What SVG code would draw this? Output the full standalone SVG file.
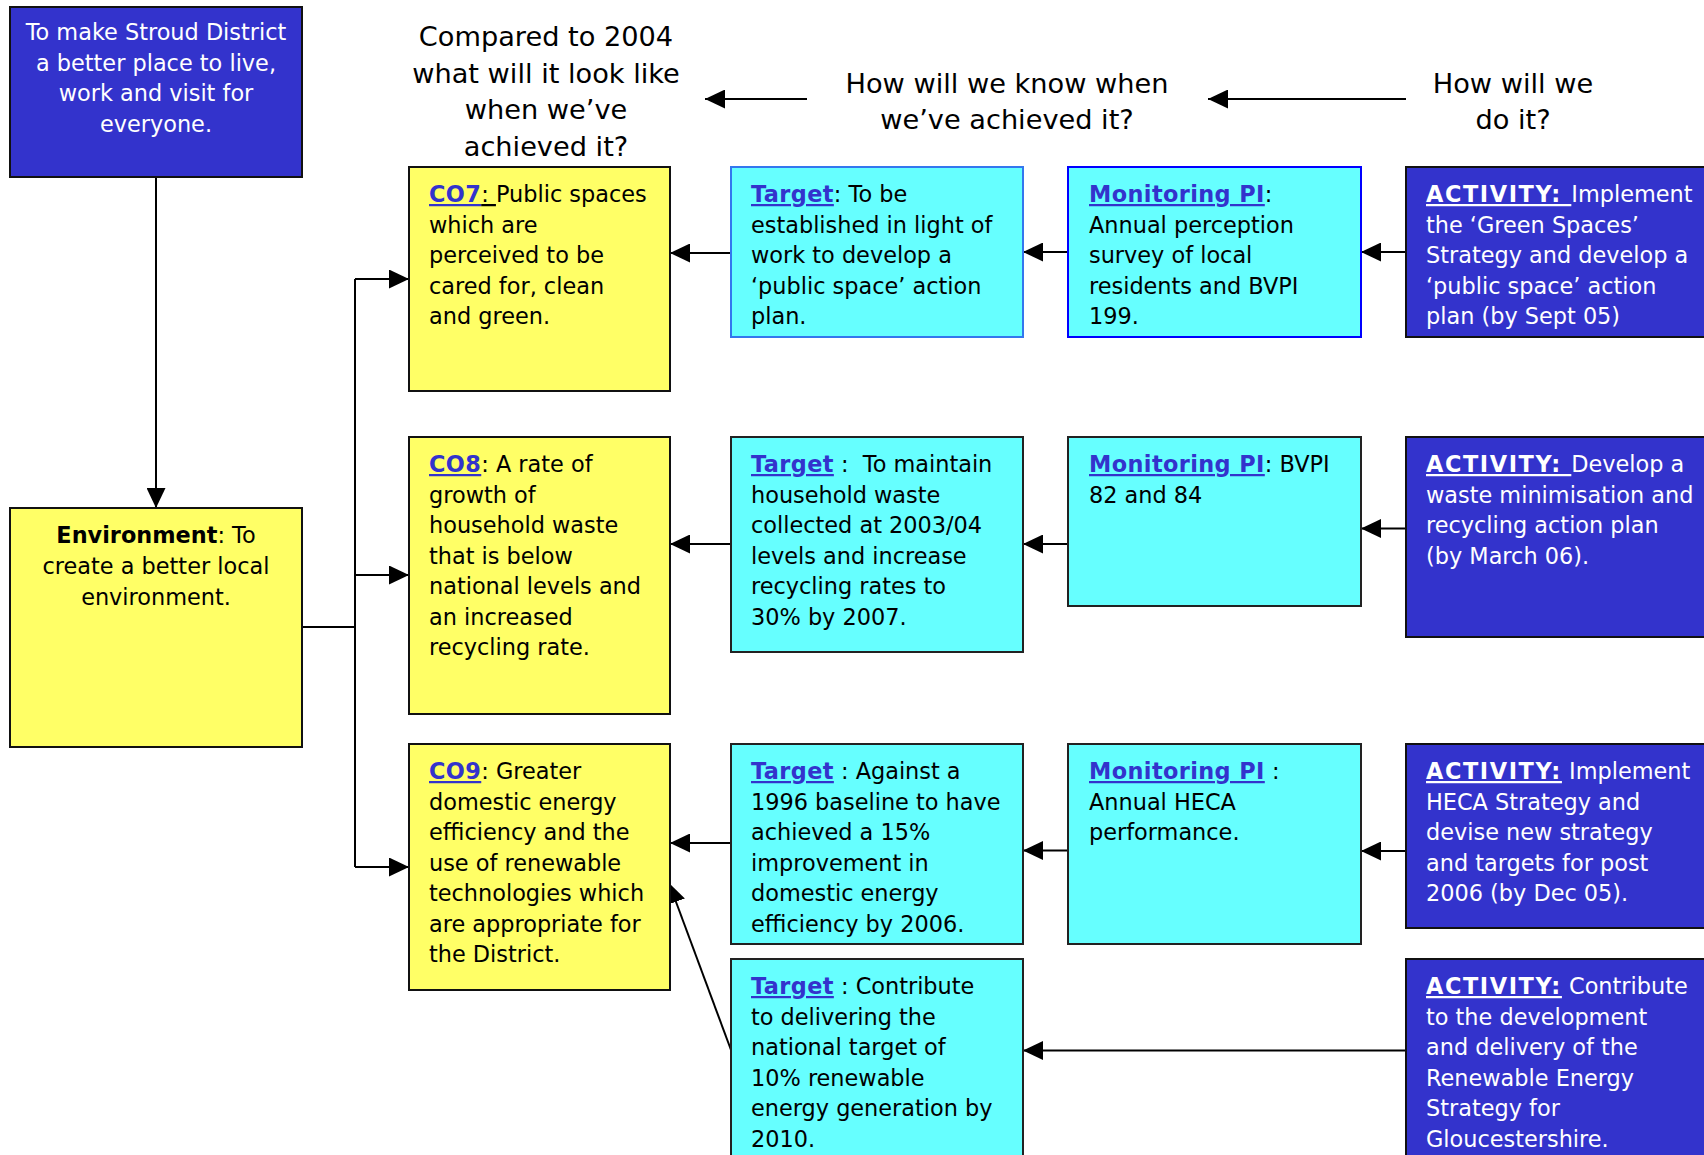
<svg xmlns="http://www.w3.org/2000/svg" width="1704" height="1155" viewBox="0 0 1704 1155">
<style>
text{font-family:"DejaVu Sans",Verdana,sans-serif;font-size:22.4px;fill:#000}
.w{fill:#fff}
.c{text-anchor:middle}
.hd{font-size:27.2px;text-anchor:middle}
.lk{font-weight:bold;fill:#3333cc;text-decoration:underline;letter-spacing:0.4px}
.ul{text-decoration:underline}
.act{font-weight:bold;fill:#fff;text-decoration:underline;letter-spacing:1.6px}
.y{fill:#ffff66;stroke:#111;stroke-width:2}
.cy{fill:#66ffff;stroke:#222;stroke-width:2}
.bl{fill:#3333cc;stroke:#111;stroke-width:2}
.cn line,.cn path{stroke:#000;stroke-width:2;fill:none;marker-end:url(#ah)}
.cn .nm{marker-end:none}
</style>
<defs>
<marker id="ah" markerUnits="userSpaceOnUse" markerWidth="20" markerHeight="19" refX="20" refY="9.5" orient="auto" viewBox="0 0 20 19">
<path d="M0,0 L20,9.5 L0,19 z" fill="#000"/>
</marker>
</defs>
<rect width="1704" height="1155" fill="#fff"/>

<g id="headers">
<text class="hd" x="546" y="46">Compared to 2004</text>
<text class="hd" x="546" y="83">what will it look like</text>
<text class="hd" x="546" y="119">when we’ve</text>
<text class="hd" x="546" y="156">achieved it?</text>
<text class="hd" x="1007" y="93">How will we know when</text>
<text class="hd" x="1007" y="129">we’ve achieved it?</text>
<text class="hd" x="1513" y="93">How will we</text>
<text class="hd" x="1513" y="129">do it?</text>
</g>

<g class="cn" id="connectors">
<line x1="807" y1="99" x2="705" y2="99"/>
<line x1="1406" y1="99" x2="1208" y2="99"/>
<line x1="156" y1="177" x2="156" y2="508"/>
<path class="nm" d="M302,627 H355"/>
<path class="nm" d="M355,279 V867"/>
<line x1="355" y1="279" x2="409" y2="279"/>
<line x1="355" y1="575" x2="409" y2="575"/>
<line x1="355" y1="867" x2="409" y2="867"/>
<line x1="731" y1="253" x2="670" y2="253"/>
<line x1="1068" y1="252" x2="1023" y2="252"/>
<line x1="1406" y1="252" x2="1361" y2="252"/>
<line x1="731" y1="544" x2="670" y2="544"/>
<line x1="1068" y1="544" x2="1023" y2="544"/>
<line x1="1406" y1="528.5" x2="1361" y2="528.5"/>
<line x1="731" y1="843" x2="670" y2="843"/>
<line x1="1068" y1="850.5" x2="1023" y2="850.5"/>
<line x1="1406" y1="851" x2="1361" y2="851"/>
<line x1="1406" y1="1050.5" x2="1023" y2="1050.5"/>
<line x1="731" y1="1050" x2="669" y2="883"/>
</g>

<g id="vision">
<rect class="bl" x="10" y="7" width="292" height="170"/>
<text class="w c" x="156" y="40">To make Stroud District<tspan x="156" dy="30.7">a better place to live,</tspan><tspan x="156" dy="30.7">work and visit for</tspan><tspan x="156" dy="30.7">everyone.</tspan></text>
</g>

<g id="environment">
<rect class="y" x="10" y="508" width="292" height="239"/>
<text class="c" x="156" y="543"><tspan font-weight="bold">Environment</tspan>: To<tspan x="156" dy="31">create a better local</tspan><tspan x="156" dy="31">environment.</tspan></text>
</g>

<g id="co7">
<rect class="y" x="409" y="167" width="261" height="224"/>
<text x="429" y="202"><tspan class="lk">CO7</tspan><tspan class="ul">: </tspan>Public spaces<tspan x="429" dy="30.5">which are</tspan><tspan x="429" dy="30.5">perceived to be</tspan><tspan x="429" dy="30.5">cared for, clean</tspan><tspan x="429" dy="30.5">and green.</tspan></text>
</g>

<g id="co8">
<rect class="y" x="409" y="437" width="261" height="277"/>
<text x="429" y="472"><tspan class="lk">CO8</tspan>: A rate of<tspan x="429" dy="30.5">growth of</tspan><tspan x="429" dy="30.5">household waste</tspan><tspan x="429" dy="30.5">that is below</tspan><tspan x="429" dy="30.5">national levels and</tspan><tspan x="429" dy="30.5">an increased</tspan><tspan x="429" dy="30.5">recycling rate.</tspan></text>
</g>

<g id="co9">
<rect class="y" x="409" y="744" width="261" height="246"/>
<text x="429" y="779"><tspan class="lk">CO9</tspan>: Greater<tspan x="429" dy="30.5">domestic energy</tspan><tspan x="429" dy="30.5">efficiency and the</tspan><tspan x="429" dy="30.5">use of renewable</tspan><tspan x="429" dy="30.5">technologies which</tspan><tspan x="429" dy="30.5">are appropriate for</tspan><tspan x="429" dy="30.5">the District.</tspan></text>
</g>

<g id="target1">
<rect class="cy" x="731" y="167" width="292" height="170" style="stroke:#3377ee"/>
<text x="751" y="202"><tspan class="lk">Target</tspan>: To be<tspan x="751" dy="30.5">established in light of</tspan><tspan x="751" dy="30.5">work to develop a</tspan><tspan x="751" dy="30.5">‘public space’ action</tspan><tspan x="751" dy="30.5">plan.</tspan></text>
</g>

<g id="target2">
<rect class="cy" x="731" y="437" width="292" height="215"/>
<text x="751" y="472"><tspan class="lk">Target</tspan> :&#160; To maintain<tspan x="751" dy="30.5">household waste</tspan><tspan x="751" dy="30.5">collected at 2003/04</tspan><tspan x="751" dy="30.5">levels and increase</tspan><tspan x="751" dy="30.5">recycling rates to</tspan><tspan x="751" dy="30.5">30% by 2007.</tspan></text>
</g>

<g id="target3">
<rect class="cy" x="731" y="744" width="292" height="200"/>
<text x="751" y="779"><tspan class="lk">Target</tspan> : Against a<tspan x="751" dy="30.5">1996 baseline to have</tspan><tspan x="751" dy="30.5">achieved a 15%</tspan><tspan x="751" dy="30.5">improvement in</tspan><tspan x="751" dy="30.5">domestic energy</tspan><tspan x="751" dy="30.5">efficiency by 2006.</tspan></text>
</g>

<g id="target4">
<rect class="cy" x="731" y="959" width="292" height="215"/>
<text x="751" y="994"><tspan class="lk">Target</tspan> : Contribute<tspan x="751" dy="30.5">to delivering the</tspan><tspan x="751" dy="30.5">national target of</tspan><tspan x="751" dy="30.5">10% renewable</tspan><tspan x="751" dy="30.5">energy generation by</tspan><tspan x="751" dy="30.5">2010.</tspan></text>
</g>

<g id="monitoring1">
<rect class="cy" x="1068" y="167" width="293" height="170" style="stroke:#0000ff"/>
<text x="1089" y="202"><tspan class="lk">Monitoring PI</tspan>:<tspan x="1089" dy="30.5">Annual perception</tspan><tspan x="1089" dy="30.5">survey of local</tspan><tspan x="1089" dy="30.5">residents and BVPI</tspan><tspan x="1089" dy="30.5">199.</tspan></text>
</g>

<g id="monitoring2">
<rect class="cy" x="1068" y="437" width="293" height="169"/>
<text x="1089" y="472"><tspan class="lk">Monitoring PI</tspan>: BVPI<tspan x="1089" dy="30.5">82 and 84</tspan></text>
</g>

<g id="monitoring3">
<rect class="cy" x="1068" y="744" width="293" height="200"/>
<text x="1089" y="779"><tspan class="lk">Monitoring PI</tspan> :<tspan x="1089" dy="30.5">Annual HECA</tspan><tspan x="1089" dy="30.5">performance.</tspan></text>
</g>

<g id="activity1">
<rect class="bl" x="1406" y="167" width="310" height="170"/>
<text class="w" x="1426" y="202"><tspan class="act">ACTIVITY: </tspan>Implement<tspan x="1426" dy="30.5">the ‘Green Spaces’</tspan><tspan x="1426" dy="30.5">Strategy and develop a</tspan><tspan x="1426" dy="30.5">‘public space’ action</tspan><tspan x="1426" dy="30.5">plan (by Sept 05)</tspan></text>
</g>

<g id="activity2">
<rect class="bl" x="1406" y="437" width="310" height="200"/>
<text class="w" x="1426" y="472"><tspan class="act">ACTIVITY: </tspan>Develop a<tspan x="1426" dy="30.5">waste minimisation and</tspan><tspan x="1426" dy="30.5">recycling action plan</tspan><tspan x="1426" dy="30.5">(by March 06).</tspan></text>
</g>

<g id="activity3">
<rect class="bl" x="1406" y="744" width="310" height="184"/>
<text class="w" x="1426" y="779"><tspan class="act">ACTIVITY:</tspan> Implement<tspan x="1426" dy="30.5">HECA Strategy and</tspan><tspan x="1426" dy="30.5">devise new strategy</tspan><tspan x="1426" dy="30.5">and targets for post</tspan><tspan x="1426" dy="30.5">2006 (by Dec 05).</tspan></text>
</g>

<g id="activity4">
<rect class="bl" x="1406" y="959" width="310" height="215"/>
<text class="w" x="1426" y="994"><tspan class="act">ACTIVITY:</tspan> Contribute<tspan x="1426" dy="30.5">to the development</tspan><tspan x="1426" dy="30.5">and delivery of the</tspan><tspan x="1426" dy="30.5">Renewable Energy</tspan><tspan x="1426" dy="30.5">Strategy for</tspan><tspan x="1426" dy="30.5">Gloucestershire.</tspan></text>
</g>
</svg>
